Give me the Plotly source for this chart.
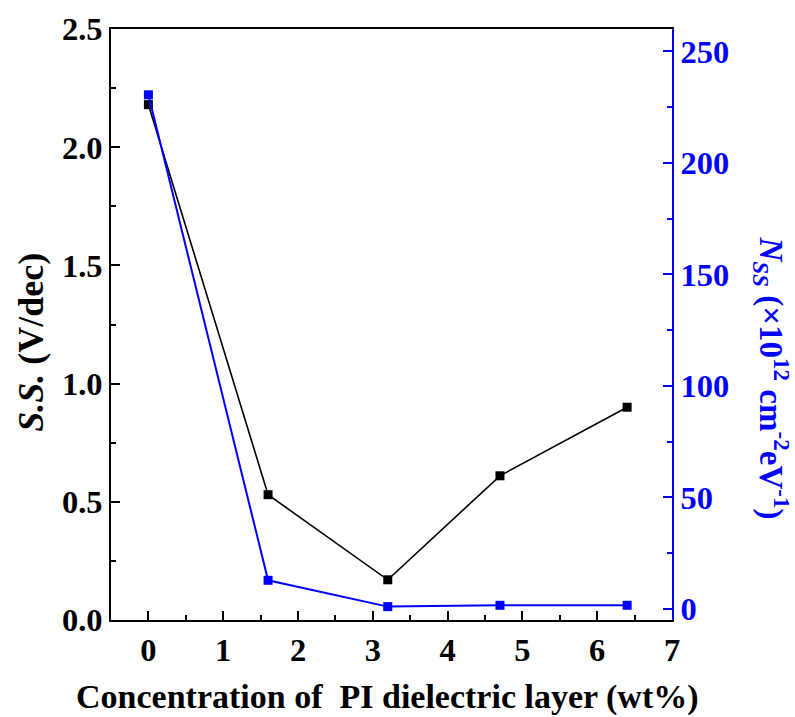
import plotly.graph_objects as go

# PI concentration (wt%)
conc = [0, 1.6, 3.2, 4.7, 6.4]
# Subthreshold swing (V/dec)
ss = [2.18, 0.53, 0.17, 0.61, 0.90]
# Interface trap density (x10^12 cm^-2 eV^-1)
nss = [230.5, 12.8, 1.0, 1.6, 1.6]

x_ticks = [0, 1, 2, 3, 4, 5, 6, 7]
left_ticks = [0.0, 0.5, 1.0, 1.5, 2.0, 2.5]
right_ticks = [0, 50, 100, 150, 200, 250]

FONT = "Liberation Serif"
BLUE = "#0000ff"
TICK_SIZE = 32.5

fig = go.Figure()
fig.add_trace(go.Scatter(
    x=conc, y=ss, mode="lines+markers", yaxis="y",
    line=dict(color="black", width=1.6),
    marker=dict(symbol="square", size=9, color="black"),
    showlegend=False,
))
fig.add_trace(go.Scatter(
    x=conc, y=nss, mode="lines+markers", yaxis="y2",
    line=dict(color=BLUE, width=2),
    marker=dict(symbol="square", size=9, color=BLUE),
    showlegend=False,
))

tickfont = dict(family=FONT, size=TICK_SIZE, color="black", weight="bold")

fig.update_layout(
    width=795, height=717,
    margin=dict(l=111, r=123, t=29, b=97),
    plot_bgcolor="white", paper_bgcolor="white",
    font=dict(family=FONT),
    xaxis=dict(
        range=[-0.5, 7], tickvals=x_ticks, ticktext=[str(v) for v in x_ticks],
        ticks="inside", ticklen=9, tickwidth=2, tickcolor="black",
        minor=dict(dtick=0.5, tick0=0, ticks="inside", ticklen=5, tickwidth=1.5, tickcolor="black"),
        showline=True, linecolor="black", linewidth=2, mirror=True,
        showgrid=False, zeroline=False, tickfont=tickfont,
    ),
    yaxis=dict(
        range=[0, 2.5], tickvals=left_ticks, ticktext=[f"{v:.1f}" for v in left_ticks],
        ticks="inside", ticklen=9, tickwidth=2, tickcolor="black",
        minor=dict(dtick=0.25, tick0=0, ticks="inside", ticklen=5, tickwidth=1.5, tickcolor="black"),
        showline=True, linecolor="black", linewidth=2,
        showgrid=False, zeroline=False, tickfont=tickfont,
    ),
    yaxis2=dict(
        overlaying="y", side="right", anchor="x",
        range=[-5, 260], tickvals=right_ticks, ticktext=[str(v) for v in right_ticks],
        ticks="inside", ticklen=9, tickwidth=2, tickcolor=BLUE,
        minor=dict(dtick=25, tick0=0, ticks="inside", ticklen=5, tickwidth=1.5, tickcolor=BLUE),
        showline=True, linecolor=BLUE, linewidth=2,
        showgrid=False, zeroline=False,
        tickfont=dict(family=FONT, size=TICK_SIZE, color=BLUE, weight="bold"),
    ),
)

# Axis titles
fig.add_annotation(
    text="Concentration of  PI dielectric layer (wt%)",
    xref="paper", yref="paper", x=0.493, y=-0.131, xanchor="center", yanchor="middle",
    showarrow=False, font=dict(family=FONT, size=34, color="black", weight="bold"),
)
fig.add_annotation(
    text="<i>S.S.</i> (V/dec)",
    xref="paper", yref="paper", x=-0.1426, y=0.469, xanchor="center", yanchor="middle",
    textangle=-90, showarrow=False, font=dict(family=FONT, size=36, color="black", weight="bold"),
)
fig.add_annotation(
    text="<i>N</i><sub><i>SS</i></sub> (×10<sup>12</sup> cm<sup>-2</sup>eV<sup>-1</sup>)",
    xref="paper", yref="paper", x=1.178, y=0.409, xanchor="center", yanchor="middle",
    textangle=90, showarrow=False, font=dict(family=FONT, size=33, color=BLUE, weight="bold"),
)

fig.write_html("out.html")
